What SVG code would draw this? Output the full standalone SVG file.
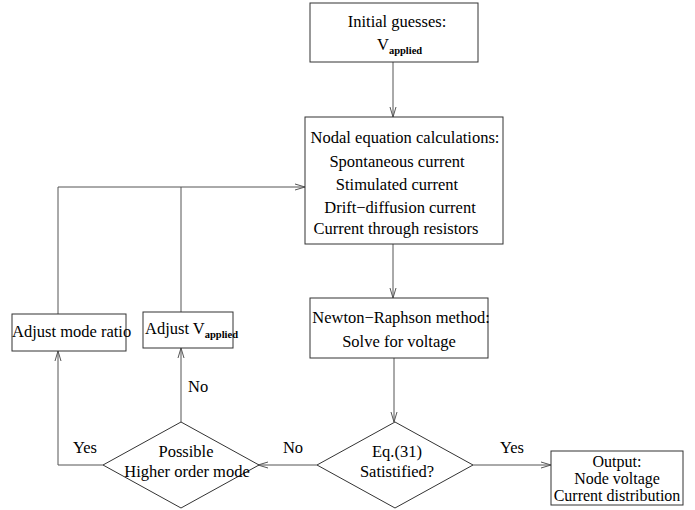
<svg xmlns="http://www.w3.org/2000/svg" width="695" height="510" viewBox="0 0 695 510">
<style>
.box{fill:#fff;stroke:#333;stroke-width:1}
.t{font-family:"Liberation Serif","Times New Roman",serif;font-size:16.5px;fill:#000}
.o{font-size:16px}
.c{text-anchor:middle}
.sub{font-family:"Liberation Serif","Times New Roman",serif;font-size:10.5px;font-weight:bold;fill:#000}
.ln{fill:none;stroke:#555;stroke-width:1}
</style>
<defs>
<marker id="arr" viewBox="0 0 10 8" refX="10" refY="4" markerWidth="10" markerHeight="8" markerUnits="userSpaceOnUse" orient="auto">
<path d="M0,1 L10,4 L0,7" fill="none" stroke="#555" stroke-width="1"/>
</marker>
</defs>
<rect width="695" height="510" fill="#fff"/>
<g id="connectors">
<path class="ln" d="M393,62 V117" marker-end="url(#arr)"/>
<path class="ln" d="M393,244 V298" marker-end="url(#arr)"/>
<path class="ln" d="M394,358 V422" marker-end="url(#arr)"/>
<path class="ln" d="M473,465 H551" marker-end="url(#arr)"/>
<path class="ln" d="M317,465 H258" marker-end="url(#arr)"/>
<path class="ln" d="M181,422 V348" marker-end="url(#arr)"/>
<path class="ln" d="M103,465 H58 V351" marker-end="url(#arr)"/>
<path class="ln" d="M58,314 V187 H305" marker-end="url(#arr)"/>
<path class="ln" d="M181,312 V187"/>
<text class="t c" x="512" y="453">Yes</text>
<text class="t c" x="293" y="453">No</text>
<text class="t c" x="85" y="453">Yes</text>
<text class="t" x="188" y="392">No</text>
</g>
<g id="initial">
<rect class="box" x="310" y="3" width="168" height="59"/>
<text class="t c" x="397" y="27">Initial guesses:</text>
<text class="t" x="377" y="50">V<tspan class="sub" dy="4">applied</tspan></text>
</g>
<g id="nodal">
<rect class="box" x="305" y="117" width="198" height="127"/>
<text class="t c" x="405" y="143">Nodal equation calculations:</text>
<text class="t c" x="397" y="167">Spontaneous current</text>
<text class="t c" x="397" y="190">Stimulated current</text>
<text class="t c" x="400" y="213">Drift−diffusion current</text>
<text class="t c" x="396" y="234">Current through resistors</text>
</g>
<g id="newton">
<rect class="box" x="310" y="298" width="178" height="60"/>
<text class="t c" x="401" y="323">Newton−Raphson method:</text>
<text class="t c" x="399" y="347">Solve for voltage</text>
</g>
<g id="eq">
<polygon class="box" points="395,422 473,465 395,508 317,465"/>
<text class="t c" x="397" y="457">Eq.(31)</text>
<text class="t c" x="397" y="477">Satistified?</text>
</g>
<g id="output">
<rect class="box" x="551" y="451" width="132" height="54"/>
<text class="t o c" x="617" y="467">Output:</text>
<text class="t o c" x="617" y="484">Node voltage</text>
<text class="t o c" x="617" y="501">Current distribution</text>
</g>
<g id="possible">
<polygon class="box" points="181,422 259,465 181,508 103,465"/>
<text class="t c" x="186" y="457">Possible</text>
<text class="t c" x="187" y="477">Higher order mode</text>
</g>
<g id="adjustV">
<rect class="box" x="143" y="312" width="90" height="36"/>
<text class="t" x="145" y="334">Adjust <tspan>V</tspan><tspan class="sub" dy="4">applied</tspan></text>
</g>
<g id="adjustMode">
<rect class="box" x="12" y="314" width="114" height="37"/>
<text class="t" x="12" y="337">Adjust mode ratio</text>
</g>
</svg>
